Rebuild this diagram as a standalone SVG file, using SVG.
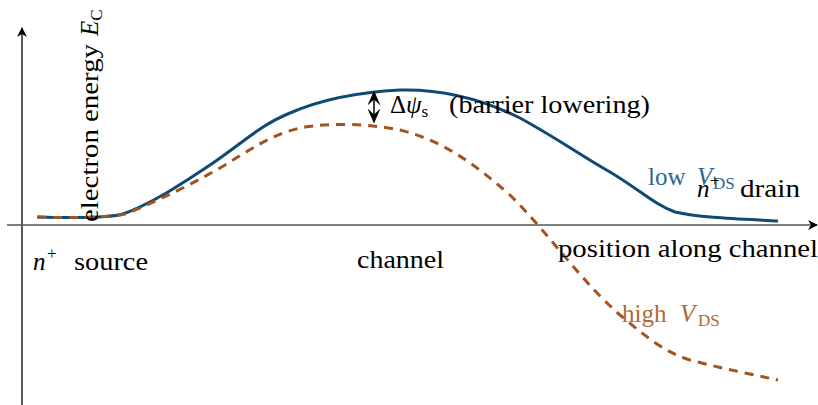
<svg xmlns="http://www.w3.org/2000/svg" width="818" height="405" viewBox="0 0 818 405">
<defs>
<style>
text{font-family:'Liberation Serif','Times New Roman',Times,serif;font-size:25px;fill:#000}
.it{font-style:italic}
.sub{font-size:17px}
.ax{fill:none;stroke-width:1.3}
.low{fill:#2d6690}
.high{fill:#b06a38}
</style>
<marker id="ah" viewBox="0 0 10 10" refX="9" refY="5" markerWidth="10" markerHeight="10" markerUnits="userSpaceOnUse" orient="auto-start-reverse">
<path d="M0,0 L10,5 L0,10 L3,5 Z" fill="#000"/>
</marker>
<marker id="dh" viewBox="0 0 10 10" refX="9" refY="5" markerWidth="15" markerHeight="13" markerUnits="userSpaceOnUse" orient="auto-start-reverse" preserveAspectRatio="none">
<path d="M0,0 L10,5 L0,10 L4,5 Z" fill="#000"/>
</marker>
</defs>
<g id="axes">
<line class="ax" x1="22" y1="405" x2="22" y2="28" stroke="#000" marker-end="url(#ah)"/>
<line class="ax" x1="7" y1="225" x2="817" y2="225" stroke="#555" marker-end="url(#ah)"/>
</g>
<g id="connectors">
<path id="low-vds" d="M37,217 C70,218 100,218 120,215 C150,205 180,185 210,165 C240,145 260,125 290,113 C320,100 360,92 400,90 C440,89 480,98 520,118 C560,140 580,155 610,172 C640,190 655,205 675,212 C700,218 740,219 778,221" fill="none" stroke="#0f4a73" stroke-width="3"/>
<path id="high-vds" d="M37,217 C70,218 100,218 125,214 C160,200 190,185 220,168 C250,150 270,135 300,128 C330,122 370,124 400,130 C440,140 470,160 510,195 C550,235 580,280 620,315 C650,340 665,352 690,360 C720,368 750,374 778,380" fill="none" stroke="#a3541e" stroke-width="3" stroke-dasharray="9,7"/>
<line id="barrier" x1="374" y1="92" x2="374" y2="122" stroke="#000" stroke-width="1.5" marker-start="url(#dh)" marker-end="url(#dh)"/>
</g>
<g id="ylabel">
<text font-family="Liberation Serif" transform="translate(98,222) rotate(-90)"><tspan textLength="178" lengthAdjust="spacingAndGlyphs">electron energy</tspan><tspan class="it" x="186">E</tspan><tspan class="sub" dy="4">C</tspan></text>
</g>
<g id="source">
<text x="33" y="270"><tspan class="it">n</tspan><tspan class="sub" x="47" y="259">+</tspan><tspan x="74" y="270" textLength="74" lengthAdjust="spacingAndGlyphs">source</tspan></text>
</g>
<g id="channel">
<text x="357" y="268" textLength="87" lengthAdjust="spacingAndGlyphs">channel</text>
</g>
<g id="position">
<text x="558" y="257" textLength="260" lengthAdjust="spacingAndGlyphs">position along channel</text>
</g>
<g id="barrier-label">
<text x="390" y="113">Δ<tspan class="it">ψ</tspan><tspan class="sub" dy="4">s</tspan><tspan x="449" dy="-4" textLength="201" lengthAdjust="spacingAndGlyphs">(barrier lowering)</tspan></text>
</g>
<g id="low-label">
<text class="low" x="648" y="185">low <tspan class="it" x="697">V</tspan><tspan class="sub" x="713" dy="4">DS</tspan></text>
</g>
<g id="drain">
<text x="697" y="197"><tspan class="it">n</tspan><tspan class="sub" x="710" y="186">+</tspan><tspan x="740" y="197" textLength="60" lengthAdjust="spacingAndGlyphs">drain</tspan></text>
</g>
<g id="high-label">
<text class="high" x="622" y="322">high <tspan class="it" x="680">V</tspan><tspan class="sub" x="698" dy="4">DS</tspan></text>
</g>
</svg>
